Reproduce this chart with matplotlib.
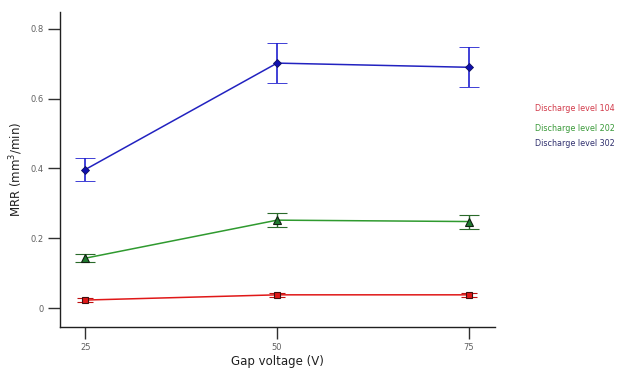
import matplotlib
matplotlib.use('Agg')
import matplotlib.pyplot as plt

# gap voltage (V)
voltage = [25, 50, 75]

# MRR (mm3/min) per discharge level, with error bar half-ranges
mrr_104 = [0.023, 0.038, 0.038]
err_104 = [0.006, 0.006, 0.006]
mrr_202 = [0.143, 0.252, 0.248]
err_202 = [0.012, 0.020, 0.020]
mrr_302 = [0.397, 0.702, 0.690]
err_302 = [0.033, 0.058, 0.057]

labels = ['Discharge level 104', 'Discharge level 202', 'Discharge level 302']
text_colors = ['#d23a4a', '#3a9a3a', '#30306e']

fig = plt.figure(figsize=(6.18, 3.69), dpi=100)
ax = fig.add_axes([0.097, 0.114, 0.704, 0.854])

ax.errorbar(voltage, mrr_104, yerr=err_104, color='#e01818', lw=1.1,
            marker='s', ms=5, mfc='#e01818', mec='#401010', mew=0.8,
            capsize=6, elinewidth=1.0, capthick=1.0, ecolor='#c01010')
ax.errorbar(voltage, mrr_202, yerr=err_202, color='#2f9a2f', lw=1.1,
            marker='^', ms=6, mfc='#1f7a2f', mec='#102010', mew=0.8,
            capsize=7, elinewidth=1.0, capthick=1.0, ecolor='#2a6a2a')
ax.errorbar(voltage, mrr_302, yerr=err_302, color='#2222c0', lw=1.1,
            marker='D', ms=4.5, mfc='#1010b0', mec='#101060', mew=0.6,
            capsize=7.5, elinewidth=1.2, capthick=1.2, ecolor='#2020d0')

ax.set_xlim(21.7, 78.4)
ax.set_ylim(-0.054, 0.849)
ax.set_xticks(voltage)
ax.set_xticklabels(['25', '50', '75'])
ax.set_yticks([0, 0.2, 0.4, 0.6, 0.8])
ax.set_yticklabels(['0', '0.2', '0.4', '0.6', '0.8'])

for s in ['top', 'right']:
    ax.spines[s].set_visible(False)
for s in ['left', 'bottom']:
    ax.spines[s].set_linewidth(1.0)
    ax.spines[s].set_color('#202020')

ax.tick_params(axis='both', direction='out', length=8.5, width=1.0,
               color='#303030', labelsize=6, labelcolor='#606060', pad=3)

ax.set_xlabel('Gap voltage (V)', fontsize=8.5, color='#202020', labelpad=2)
ax.set_ylabel('MRR (mm$^3$/min)', fontsize=8.5, color='#202020', labelpad=4)

ys = [0.705, 0.653, 0.612]
for lab, c, yy in zip(labels, text_colors, ys):
    fig.text(0.866, yy, lab, fontsize=5.8, color=c, va='center', ha='left')

fig.savefig('out.png', dpi=100)
